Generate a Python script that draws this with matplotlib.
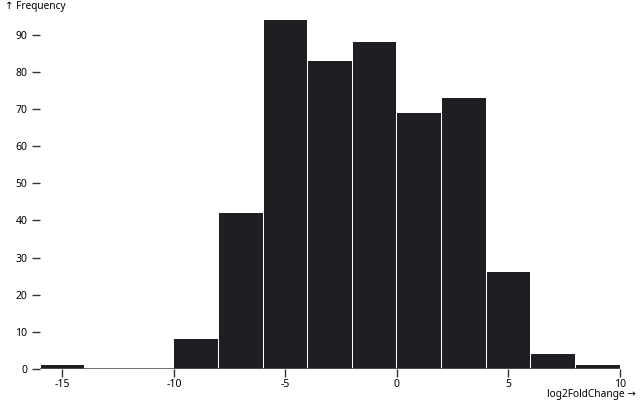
import matplotlib
matplotlib.use("Agg")
import matplotlib.pyplot as plt
import numpy as np

bin_edges = [-16, -14, -12, -10, -8, -6, -4, -2, 0, 2, 4, 6, 8, 10]
counts = [1, 0, 0, 8, 42, 94, 83, 88, 69, 73, 26, 4, 1]
x_ticks = [-15, -10, -5, 0, 5, 10]
y_ticks = [0, 10, 20, 30, 40, 50, 60, 70, 80, 90]

plt.rcParams['font.family'] = ['Noto Sans', 'DejaVu Sans']
fig = plt.figure(figsize=(6.4, 4.0), dpi=100)
ax = fig.add_axes([40/640, 31/400, 580/640, 349/400])

bar_color = '#1d1f23'
px = 26 / 580  # data units per pixel in x
for i, c in enumerate(counts):
    if c <= 0:
        continue
    l = bin_edges[i] + 0.5 * px
    r = bin_edges[i + 1] - 0.5 * px
    ax.bar(l, c, width=r - l, align='edge', color=bar_color, linewidth=0)

ax.axhline(0, color='#555555', linewidth=1.2)
ax.set_xlim(-16, 10)
ax.set_ylim(0, 94)
for s in ax.spines.values():
    s.set_visible(False)
ax.set_xticks(x_ticks)
ax.set_xticklabels([str(t) for t in x_ticks])
ax.set_yticks(y_ticks)
ax.tick_params(axis='x', length=6, width=1, color='#333333', labelsize=7.5, pad=1)
ax.tick_params(axis='y', length=6, width=1, color='#333333', labelsize=7.5, pad=3)

fig.text(5/640, 1 - 7/400, '↑ Frequency', ha='left', va='center', fontsize=7.3)
fig.text(636/640, 1 - 395/400, 'log2FoldChange →', ha='right', va='center', fontsize=7.3)

fig.savefig('out.png', dpi=100)
